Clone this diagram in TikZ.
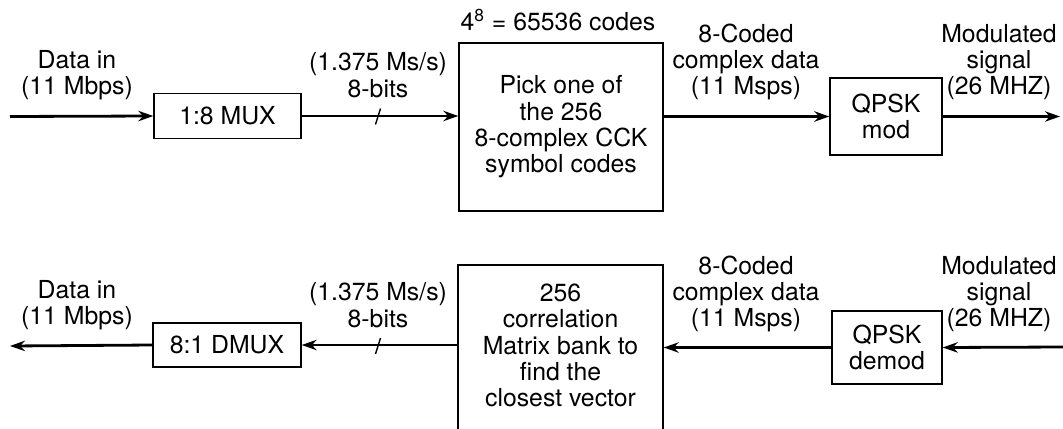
\documentclass[tikz,border=0pt]{standalone}
\usepackage{fontspec}
\setmainfont{TeX Gyre Heros}
\usetikzlibrary{arrows.meta}

\begin{document}
\begin{tikzpicture}[x=0.5pt,y=-0.5pt,
  font=\fontsize{12.4}{13.2}\selectfont,
  block/.style={draw, line width=0.7pt, align=center, inner sep=0pt},
  lbl/.style={align=center, inner sep=0pt},
  sig/.style={line width=1.4pt, -{Stealth[length=7.5pt,width=5.2pt]}},
  tick/.style={line width=0.7pt}]
\clip (0,0) rectangle (1063,428);
% transmitter
\node[block, minimum width=73.5pt, minimum height=22.5pt] (mux) at (227.5,116) {1:8 MUX};
\node[block, minimum width=102pt, minimum height=84pt] (cck) at (561,127) {Pick one of\\the 256\\8-complex CCK\\symbol codes};
\node[block, minimum width=56pt, minimum height=38.5pt] (mod) at (886,116.5) {QPSK\\mod};
\coordinate (in1) at (10,116.5);
\coordinate (out1) at (1060,116.5);
\coordinate (tick1) at (378,116.5);
\draw[sig] (in1) -- (mux.west);
\draw[sig] (mux.east) -- (mux.east -| cck.west);
\draw[sig] (cck.east |- mod.west) -- (mod.west);
\draw[sig] (mod.east) -- (out1);
\draw[tick] ([shift={(-2.5,8)}]tick1) -- ([shift={(2.5,-8)}]tick1);
\node[lbl] (datain1) at (77,75) {Data in\\(11 Mbps)};
\node[lbl] (rate1) at (378,75) {(1.375 Ms/s)\\8-bits};
\node[lbl] (codes) at (558,20) {4\textsuperscript{8} = 65536 codes};
\node[lbl] (coded1) at (746,62) {8-Coded\\complex data\\(11 Msps)};
\node[lbl] (modsig1) at (999,62) {Modulated\\signal\\(26 MHZ)};
% receiver
\node[block, minimum width=74pt, minimum height=22pt] (dmux) at (227,345) {8:1 DMUX};
\node[block, minimum width=102.5pt, minimum height=95pt] (corr) at (560.5,360) {};
\node[lbl] (corrtext) at (560.5,345.5) {256\\correlation\\Matrix bank to\\find the\\closest vector};
\node[block, minimum width=55pt, minimum height=36.5pt] (demod) at (887,347.5) {QPSK\\demod};
\coordinate (in2) at (1063,347);
\coordinate (out2) at (10,346);
\coordinate (tick2) at (378,346);
\draw[sig] (in2) -- (demod.east);
\draw[sig] (demod.west) -- (demod.west -| corr.east);
\draw[sig] (corr.west |- dmux.east) -- (dmux.east);
\draw[sig] (dmux.west) -- (out2);
\draw[tick] ([shift={(-2.5,8)}]tick2) -- ([shift={(2.5,-8)}]tick2);
\node[lbl] (datain2) at (77,305) {Data in\\(11 Mbps)};
\node[lbl] (rate2) at (378,305) {(1.375 Ms/s)\\8-bits};
\node[lbl] (coded2) at (746,294) {8-Coded\\complex data\\(11 Msps)};
\node[lbl] (modsig2) at (999,294) {Modulated\\signal\\(26 MHZ)};
\end{tikzpicture}
\end{document}
